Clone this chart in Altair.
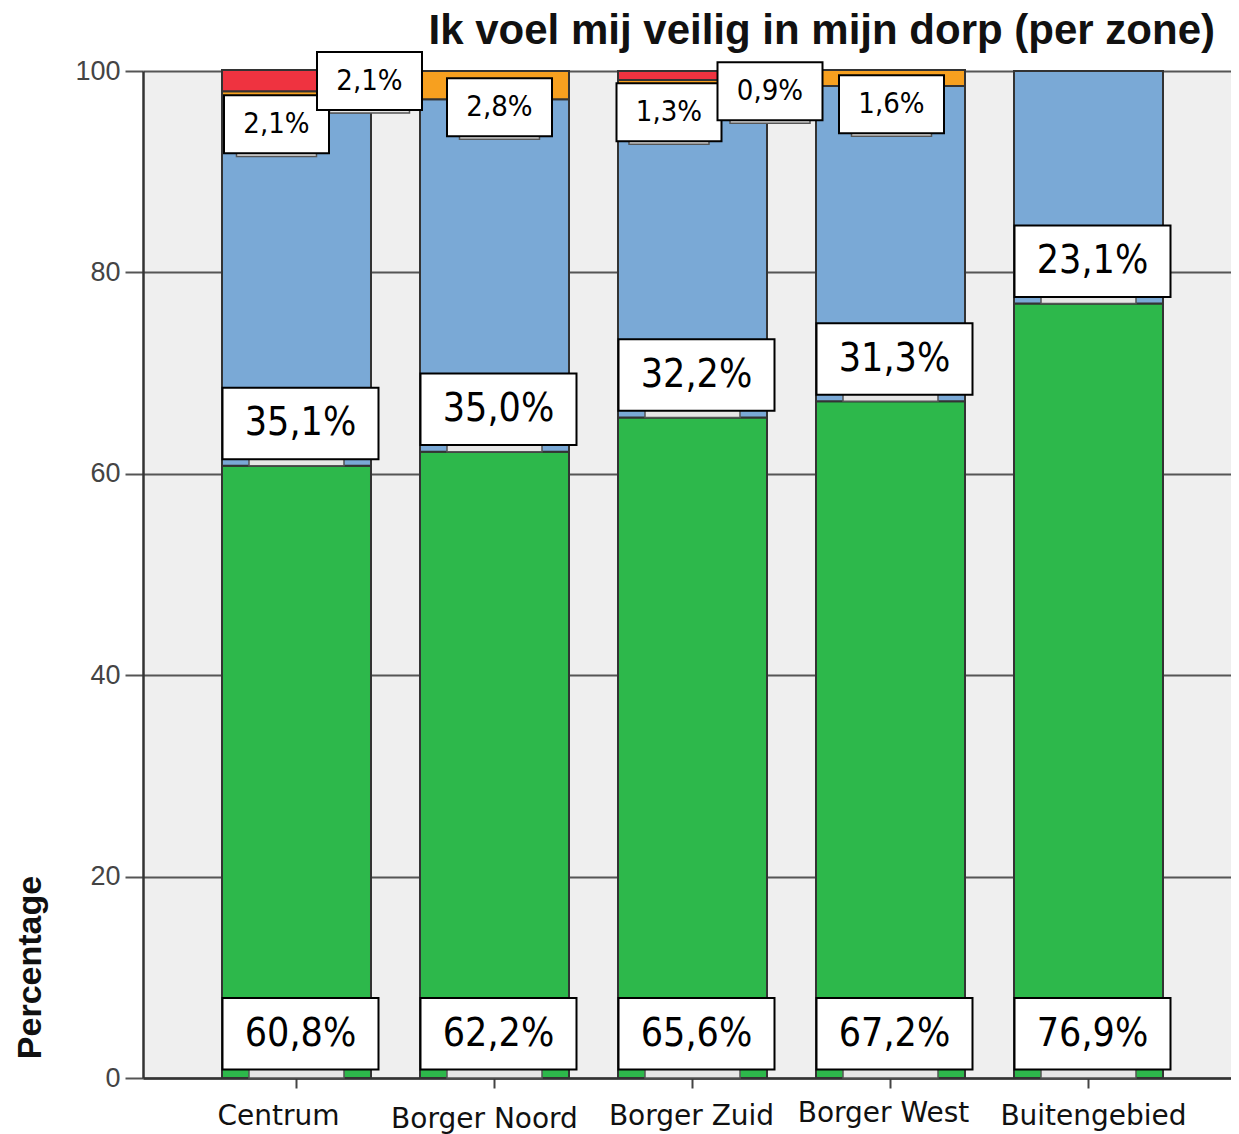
import altair as alt
import pandas as pd

# ---------------- data ----------------
zones = ["Centrum", "Borger Noord", "Borger Zuid", "Borger West", "Buitengebied"]
green = [60.8, 62.2, 65.6, 67.2, 76.9]
blue = [35.1, 35.0, 32.2, 31.3, 23.1]
orange = [2.1, 2.8, 1.3, 1.6, 0.0]
red = [2.1, 0.0, 0.9, 0.0, 0.0]
title_text = "Ik voel mij veilig in mijn dorp (per zone)"
y_title = "Percentage"
y_ticks = [0, 20, 40, 60, 80, 100]

seg_names = ["groen", "blauw", "oranje", "rood"]
seg_colors = ["#2db84b", "#7aa9d6", "#f7a01f", "#ef3340"]
series = {"groen": green, "blauw": blue, "oranje": orange, "rood": red}

# ---------------- label layout (style, not data) ----------------
GREEN_LABEL_Y = 4.4      # centre of bottom label box, in % units
BLUE_LABEL_GAP = 4.2     # centre of blue label above top of green
BIG_HALF = 3.55
SMALL_HALF = 2.88
BIG_W, SMALL_W = 156, 105
BIG_DX = 4
small_layout = {
    ("Centrum", "oranje"): (-20, 94.7),
    ("Centrum", "rood"): (73, 99.0),
    ("Borger Noord", "oranje"): (5, 96.4),
    ("Borger Zuid", "oranje"): (-23.5, 95.9),
    ("Borger Zuid", "rood"): (77.5, 98.0),
    ("Borger West", "oranje"): (1, 96.7),
}
# small per-label nudges of the category labels (px)
xlab_dx = {"Centrum": -18, "Borger Noord": -10, "Borger Zuid": -1,
           "Borger West": -7, "Buitengebied": 5}
xlab_pad = {"Centrum": 14, "Borger Noord": 17, "Borger Zuid": 14,
            "Borger West": 11, "Buitengebied": 14}


def fmt(v):
    return f"{v:.1f}".replace(".", ",") + "%"


# stacked bar table
rows = []
for i, z in enumerate(zones):
    base = 0.0
    for s in seg_names:
        v = series[s][i]
        if v > 0:
            rows.append({"zone": z, "seg": s, "y0": base, "y1": base + v})
        base += v
bars_df = pd.DataFrame(rows)

# label table
lab = []
for i, z in enumerate(zones):
    yc = GREEN_LABEL_Y
    lab.append({"zone": z, "txt": fmt(green[i]), "yc": yc, "lo": yc - BIG_HALF,
                "hi": yc + BIG_HALF, "dx": BIG_DX, "w": BIG_W, "big": True,
                "s0": 0.0, "s1": yc - BIG_HALF + 0.3})
    yc = green[i] + BLUE_LABEL_GAP
    lab.append({"zone": z, "txt": fmt(blue[i]), "yc": yc, "lo": yc - BIG_HALF,
                "hi": yc + BIG_HALF, "dx": BIG_DX, "w": BIG_W, "big": True,
                "s0": green[i], "s1": yc - BIG_HALF + 0.3})
for (z, s), (dx, yc) in small_layout.items():
    i = zones.index(z)
    lab.append({"zone": z, "txt": fmt(series[s][i]), "yc": yc, "lo": yc - SMALL_HALF,
                "hi": yc + SMALL_HALF, "dx": dx, "w": SMALL_W, "big": False,
                "s0": yc - SMALL_HALF - 0.3, "s1": yc - SMALL_HALF + 0.3})
lab_df = pd.DataFrame(lab)
lab_df["id"] = range(len(lab_df))

W, H = 1088, 1007
xscale = alt.Scale(domain=zones, range=[0, 1099], paddingInner=0.2475, paddingOuter=0.399)
yscale = alt.Scale(domain=[0, 100], nice=False)

dx_sig = " : ".join(f"datum.value == '{z}' ? {d}" for z, d in xlab_dx.items()) + " : 0"
pad_sig = " : ".join(f"datum.value == '{z}' ? {d}" for z, d in xlab_pad.items()) + " : 14"

x_enc = alt.X("zone:N", sort=zones, scale=xscale,
              axis=alt.Axis(title=None, labelAngle=0, labelFont="DejaVu Sans",
                            labelFontSize=28, labelColor="#111",
                            labelPadding={"expr": pad_sig},
                            labelOffset={"expr": dx_sig},
                            labelLimit=400, tickSize=10, tickColor="#444",
                            tickWidth=2, domainColor="#333", domainWidth=2.5,
                            grid=False))
y_axis = alt.Axis(values=y_ticks, title=y_title, grid=True, gridColor="#555",
                  gridWidth=2, tickSize=18, tickColor="#555", tickWidth=2,
                  domainColor="#333", domainWidth=2.5, labelFont="Liberation Sans",
                  labelFontSize=27, labelColor="#444", labelPadding=5,
                  titleFont="Liberation Sans", titleFontSize=34,
                  titleFontWeight="bold", titleColor="#111", titleAngle=270,
                  titleX=-113, titleY=896, titleAlign="center",
                  titleBaseline="middle")

bars = alt.Chart(bars_df).mark_bar(stroke="#333", strokeWidth=2).encode(
    x=x_enc,
    y=alt.Y("y0:Q", scale=yscale, axis=y_axis),
    y2="y1:Q",
    color=alt.Color("seg:N", scale=alt.Scale(domain=seg_names, range=seg_colors),
                    legend=None),
)

layers = [bars]

LABEL_FONT = "DejaVu Sans Condensed, DejaVu Sans"

# shadows of label boxes
for k, r in lab_df.iterrows():
    sw = 95 if r["big"] else 80
    sdx = 0 if r["big"] else r["dx"]
    layers.append(
        alt.Chart(lab_df).transform_filter(alt.datum.id == int(r["id"]))
        .mark_bar(width=sw, xOffset=float(sdx), fill="#e6e6e6", stroke="#555",
                  strokeWidth=1.5)
        .encode(x=alt.X("zone:N", sort=zones, scale=xscale),
                y=alt.Y("s0:Q", scale=yscale), y2="s1:Q")
    )

# label boxes and texts
for k, r in lab_df.iterrows():
    fs = 39 if r["big"] else 29
    base = alt.Chart(lab_df).transform_filter(alt.datum.id == int(r["id"]))
    layers.append(
        base.mark_bar(width=int(r["w"]), xOffset=float(r["dx"]), fill="white",
                      stroke="black", strokeWidth=2)
        .encode(x=alt.X("zone:N", sort=zones, scale=xscale),
                y=alt.Y("lo:Q", scale=yscale), y2="hi:Q")
    )
    layers.append(
        base.mark_text(xOffset=float(r["dx"]), font=LABEL_FONT, fontSize=fs,
                       color="black", align="center", baseline="middle")
        .encode(x=alt.X("zone:N", sort=zones, scale=xscale),
                y=alt.Y("yc:Q", scale=yscale), text="txt:N")
    )

title = alt.Chart(pd.DataFrame({"t": [title_text]})).mark_text(
    font="Liberation Sans", fontSize=42, fontWeight="bold", color="#111",
    align="right", baseline="alphabetic"
).encode(text="t:N", x=alt.value(1072), y=alt.value(-27))
layers.append(title)

chart = alt.layer(*layers).properties(
    width=W, height=H,
    autosize=alt.AutoSizeParams(type="none"),
    padding={"left": 135, "top": 63, "right": 0, "bottom": 60},
).configure_view(fill="#efefef", stroke="transparent")

chart.save("out.html", embed_options={"renderer": "svg", "actions": False})
